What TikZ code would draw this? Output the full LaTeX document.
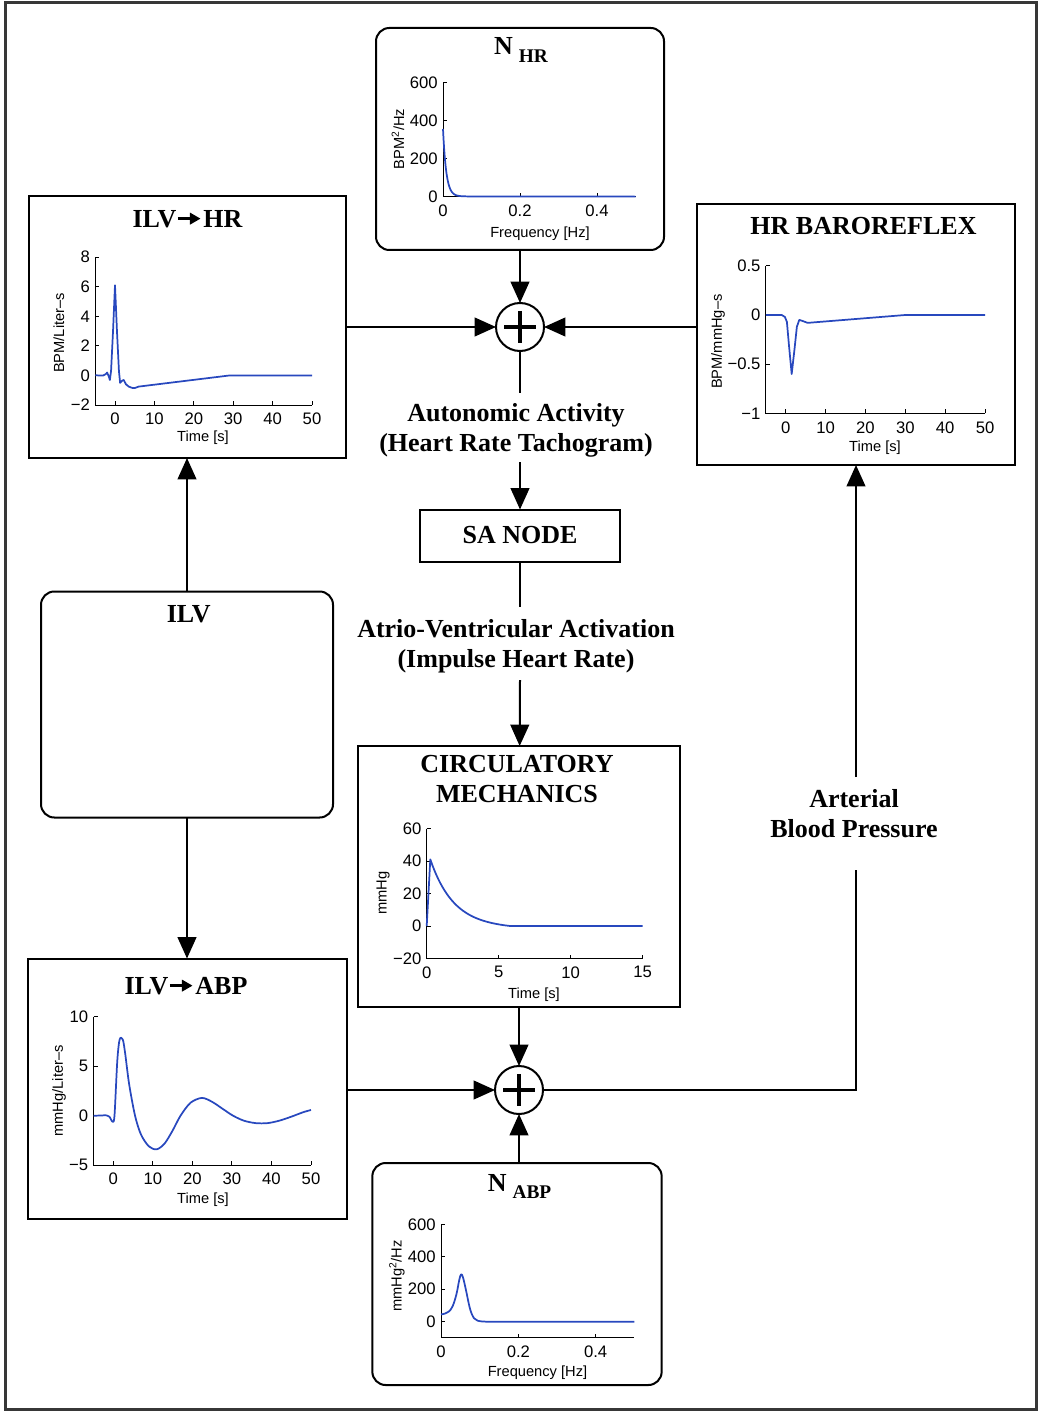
\documentclass[tikz,border=0pt]{standalone}
\usepackage{fontspec}
\setmainfont{Liberation Serif}
\newfontfamily\plotfont{Liberation Sans}
\usetikzlibrary{arrows.meta}
\definecolor{tracecol}{RGB}{40,72,190}
\definecolor{edgegray}{RGB}{55,55,55}

\tikzset{every picture/.style={line width=1.5pt}}
\newcommand{\ttlarrow}{\tikz[baseline={(0,-6.5pt)}]\draw[line width=2.2pt,-{Triangle[length=8pt,width=8.5pt]}] (0,0) -- (17pt,0);\hspace{1pt}}

\begin{document}
\begin{tikzpicture}[x=0.75pt,y=0.75pt,yscale=-1,xscale=1,
  blk/.style={draw, inner sep=0pt, outer sep=0pt},
  rblk/.style={blk, rounded corners=10pt},
  summer/.style={draw, circle, minimum size=36pt, inner sep=0pt, outer sep=0pt},
  ttl/.style={font=\fontsize{19.5}{22.5}\selectfont\bfseries, inner sep=0pt},
  sig/.style={font=\fontsize{19.5}{22.5}\selectfont\bfseries, inner sep=0pt, align=center},
  conn/.style={-{Triangle[length=16pt,width=14pt]}},
  axln/.style={line width=0.75pt},
  trc/.style={line width=1.3pt, draw=tracecol, line join=round},
  tk/.style={font=\plotfont\fontsize{12.5}{14}\selectfont, inner sep=0.5pt},
  xtk/.style={tk, anchor=north, outer ysep=5.5pt},
  ytk/.style={tk, anchor=east, outer xsep=3.5pt},
  axlbl/.style={font=\plotfont\fontsize{11}{13}\selectfont, inner sep=0pt},
]
\useasboundingbox (0,0) rectangle (1040,1412);
%Shape: outer frame
\draw[edgegray, line width=2.25pt] (5,3) rectangle (1036,1409);

%Shape: blocks
\node[rblk, minimum width=216pt, minimum height=166.5pt] (nhr) at (520,139) {};
\node[blk, minimum width=237.75pt, minimum height=196.5pt] (ilvhr) at (187,327) {};
\node[blk, minimum width=238.5pt, minimum height=195.75pt] (baro) at (856,334.5) {};
\node[summer] (sumhr) at (520,327) {};
\node[blk, ttl, minimum width=150pt, minimum height=39pt] (sa) at (520,535.5) {SA NODE};
\node[rblk, minimum width=219pt, minimum height=169.5pt] (ilv) at (187,704.5) {};
\node[blk, minimum width=241.5pt, minimum height=195.75pt] (circ) at (519,876.5) {};
\node[blk, minimum width=239.25pt, minimum height=195pt] (ilvabp) at (187,1088.5) {};
\node[summer] (sumabp) at (519,1090) {};
\node[rblk, minimum width=217pt, minimum height=166.5pt] (nabp) at (517,1274) {};

%Shape: plus signs
\foreach \s in {sumhr,sumabp} {
  \draw[line width=2.4pt] (\s.center) ++(-16,0) -- ++(32,0);
  \draw[line width=2.4pt] (\s.center) ++(0,-16) -- ++(0,32);
}

% Text Node: titles
\node[ttl, anchor=base] (nhrt) at (521,55) {N\hspace{4.5pt}\raisebox{-6pt}{\fontsize{14.5}{15}\selectfont HR}};
\node[ttl, anchor=base] (ilvhrt) at (187.5,227.3) {ILV\ttlarrow HR};
\node[ttl, anchor=base] (barot) at (863.5,235) {HR BAROREFLEX};
\node[ttl, anchor=base] (ilvt) at (188.7,622.7) {ILV};
\node[ttl, align=center] (circt) at (517,779) {CIRCULATORY\\MECHANICS};
\node[ttl, anchor=base] (ilvabpt) at (186,994.3) {ILV\ttlarrow ABP};
\node[ttl, anchor=base] (nabpt) at (519.5,1191) {N\hspace{4.5pt}\raisebox{-5.5pt}{\fontsize{14.5}{15}\selectfont ABP}};

% Text Node: signals
\node[sig] (autact) at (516,430) {Autonomic Activity\\(Heart Rate Tachogram)};
\node[sig] (avact) at (516,646) {Atrio-Ventricular Activation\\(Impulse Heart Rate)};
\node[sig] (abp) at (854,813.5) {Arterial\\Blood Pressure};
\coordinate (autin) at (520,393);
\coordinate (autout) at (520,462);
\coordinate (avin) at (520,607);
\coordinate (avout) at (520,680);
\coordinate (abpin) at (856,870);
\coordinate (abpout) at (856,777);

%Straight Lines: connectors
\draw[conn] (nhr) -- (sumhr);
\draw[conn] (ilvhr.east |- sumhr) -- (sumhr);
\draw[conn] (baro.west |- sumhr) -- (sumhr);
\draw (sumhr) -- (autin);
\draw[conn] (autout) -- (sa);
\draw (sa) -- (avin);
\draw[conn] (avout) -- (circ);
\draw[conn] (circ) -- (sumabp);
\draw[conn] (ilvabp.east |- sumabp) -- (sumabp);
\draw[conn] (sumabp |- nabp.north) -- (sumabp);
\draw (sumabp) -| (abpin);
\draw[conn] (abpout) -- (baro.south -| abpout);
\draw[conn] (ilv) -- (ilvhr);
\draw[conn] (ilv) -- (ilvabp);

%Plot: N_HR spectrum
\begin{scope}[shift={(443,197)}, x=288.75pt, y=-0.1425pt]
  \draw[axln] (0,600) -- (0,0) -- (0.5,0);
  \foreach \v [count=\i] in {0,200,400,600} {
    \draw[axln] (0,\v) -- ++(3pt,0pt);
    \node[ytk] (nhry\i) at (0,\v) {\v};
  }
  \foreach \f [count=\i] in {0,0.2,0.4} {
    \draw[axln] (\f,0) -- ++(0pt,-3pt);
    \node[xtk] (nhrx\i) at (\f,0) {\f};
  }
  \draw[trc] plot[domain=0:0.07, samples=50] (\x,{355*exp(-\x/0.0085)+3}) -- (0.5,2);
\end{scope}
\node[axlbl, rotate=90] (nhrylab) at (398,139) {BPM\textsuperscript{2}/Hz};
\node[axlbl] (nhrxlab) at (540,234) {Frequency [Hz]};

%Plot: ILV to HR impulse response
\begin{scope}[shift={(115,375.5)}, x=2.955pt, y=-11.1pt]
  \draw[axln] (-5,8) -- (-5,-2) -- (50,-2);
  \foreach \v/\lbl [count=\i] in {-2/−2,0/0,2/2,4/4,6/6,8/8} {
    \draw[axln] (-5,\v) -- ++(3pt,0pt);
    \node[ytk] (ilvhry\i) at (-5,\v) {\lbl};
  }
  \foreach \s [count=\i] in {0,10,...,50} {
    \draw[axln] (\s,-2) -- ++(0pt,-3pt);
    \node[xtk] (ilvhrx\i) at (\s,-2) {\s};
  }
  \draw[trc] plot coordinates {(-5,0.02) (-4,0) (-3,0) (-2.3,0.1) (-2,0.2) (-1.6,-0.05) (-1.3,-0.3)
    (-1,0.3) (-0.5,3) (0,6.1) (0.5,3) (1,0.3) (1.3,-0.5) (1.8,-0.35) (2.2,-0.3) (2.8,-0.6)
    (3.5,-0.75) (4.5,-0.85) (5,-0.85) (6,-0.75) (29,0) (50,0)};
\end{scope}
\node[axlbl, rotate=90] (ilvhrylab) at (59,333) {BPM/Liter–s};
\node[axlbl] (ilvhrxlab) at (203,438) {Time [s]};

%Plot: HR baroreflex impulse response
\begin{scope}[shift={(785.7,315)}, x=2.99pt, y=-73.8pt]
  \draw[axln] (-5,0.5) -- (-5,-1) -- (50,-1);
  \foreach \v/\lbl [count=\i] in {-1/−1,-0.5/−0.5,0/0,0.5/0.5} {
    \draw[axln] (-5,\v) -- ++(3pt,0pt);
    \node[ytk] (baroy\i) at (-5,\v) {\lbl};
  }
  \foreach \s [count=\i] in {0,10,...,50} {
    \draw[axln] (\s,-1) -- ++(0pt,-3pt);
    \node[xtk] (barox\i) at (\s,-1) {\s};
  }
  \draw[trc] plot coordinates {(-5,0) (-1,0) (-0.2,-0.02) (0.3,-0.07) (0.8,-0.3) (1.5,-0.6)
    (2.2,-0.35) (2.8,-0.12) (3.4,-0.05) (4.2,-0.06) (5.5,-0.08) (30,0) (50,0)};
\end{scope}
\node[axlbl, rotate=90] (baroylab) at (718,341.7) {BPM/mmHg–s};
\node[axlbl] (baroxlab) at (875,448) {Time [s]};

%Plot: circulatory mechanics impulse response
\begin{scope}[shift={(426.7,926)}, x=10.8pt, y=-1.21875pt]
  \draw[axln] (0,60) -- (0,-20) -- (15,-20);
  \foreach \v/\lbl [count=\i] in {-20/−20,0/0,20/20,40/40,60/60} {
    \draw[axln] (0,\v) -- ++(3pt,0pt);
    \node[ytk] (circy\i) at (0,\v) {\lbl};
  }
  \foreach \s [count=\i] in {0,5,10,15} {
    \draw[axln] (\s,-20) -- ++(0pt,-3pt);
    \node[xtk] (circx\i) at (\s,-20) {\s};
  }
  \draw[trc] (0,0) -- (0.25,41) -- plot[domain=0.25:5.8, samples=40] (\x,{41*exp(-(\x-0.25)/1.6)-1.28*(\x-0.25)/5.55}) -- (15,0);
\end{scope}
\node[axlbl, rotate=90] (circylab) at (383,893) {mmHg};
\node[axlbl] (circxlab) at (534,995) {Time [s]};

%Plot: ILV to ABP impulse response
\begin{scope}[shift={(113.3,1115.7)}, x=2.9655pt, y=-7.4175pt]
  \draw[axln] (-5,10) -- (-5,-5) -- (50,-5);
  \foreach \v/\lbl [count=\i] in {-5/−5,0/0,5/5,10/10} {
    \draw[axln] (-5,\v) -- ++(3pt,0pt);
    \node[ytk] (ilvabpy\i) at (-5,\v) {\lbl};
  }
  \foreach \s [count=\i] in {0,10,...,50} {
    \draw[axln] (\s,-5) -- ++(0pt,-3pt);
    \node[xtk] (ilvabpx\i) at (\s,-5) {\s};
  }
  \draw[trc] plot[smooth, tension=0.5] coordinates {(-5,0) (-3,0.02) (-2,0.05) (-1,-0.1) (-0.2,-0.6)
    (0.3,0) (1,5.5) (1.6,7.7) (2.4,7.7) (3,6.3) (4,3.2) (5.5,0) (7,-1.9) (9,-3.1) (11,-3.4)
    (13,-2.8) (15,-1.5) (17,0) (19.5,1.3) (22.4,1.8) (25,1.4) (28,0.6) (30.3,0) (33,-0.5)
    (36,-0.75) (39,-0.75) (42,-0.5) (45,-0.1) (48,0.35) (50,0.58)};
\end{scope}
\node[axlbl, rotate=90] (ilvabpylab) at (59,1091) {mmHg/Liter–s};
\node[axlbl] (ilvabpxlab) at (203,1200) {Time [s]};

%Plot: N_ABP spectrum
\begin{scope}[shift={(441,1321.7)}, x=290pt, y=-0.1217pt]
  \draw[axln] (0,600) -- (0,-100) -- (0.5,-100);
  \foreach \v [count=\i] in {0,200,400,600} {
    \draw[axln] (0,\v) -- ++(3pt,0pt);
    \node[ytk] (nabpy\i) at (0,\v) {\v};
  }
  \foreach \f [count=\i] in {0,0.2,0.4} {
    \draw[axln] (\f,-100) -- ++(0pt,-3pt);
    \node[xtk] (nabpx\i) at (\f,-100) {\f};
  }
  \draw[trc] plot[smooth, tension=0.6] coordinates {(0,45) (0.01,50) (0.02,62) (0.03,95) (0.04,170)
    (0.047,255) (0.052,292) (0.057,272) (0.065,190) (0.075,80) (0.085,22) (0.095,6) (0.11,1) (0.13,0)} -- (0.5,0);
\end{scope}
\node[axlbl, rotate=90] (nabpylab) at (397,1276) {mmHg\textsuperscript{2}/Hz};
\node[axlbl] (nabpxlab) at (537.5,1373) {Frequency [Hz]};

\end{tikzpicture}
\end{document}
